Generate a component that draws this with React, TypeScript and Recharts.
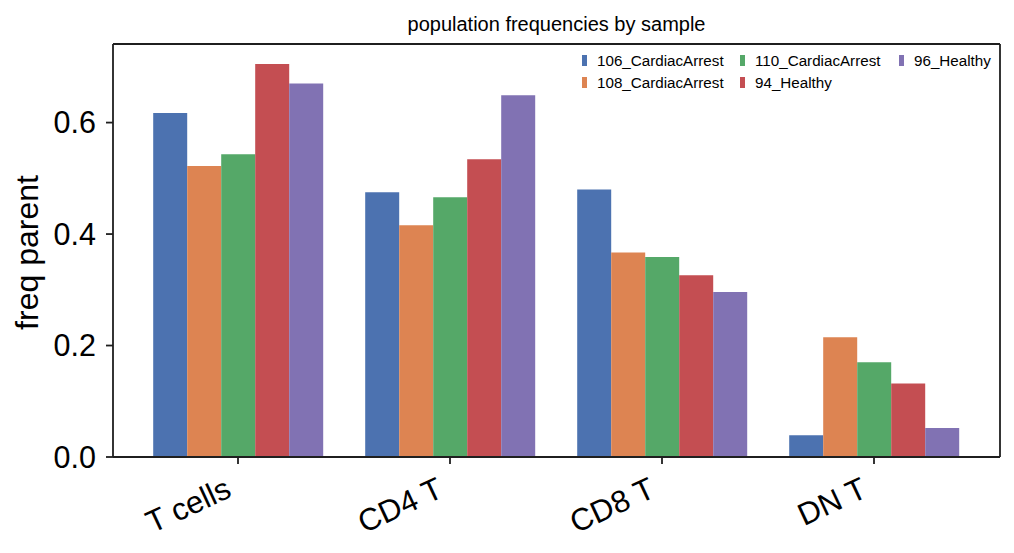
import React from 'react';
import { BarChart, Bar, XAxis, YAxis, Legend, Label } from 'recharts';

const categories = ['T cells', 'CD4 T', 'CD8 T', 'DN T'];
const seriesNames = ['106_CardiacArrest', '108_CardiacArrest', '110_CardiacArrest', '94_Healthy', '96_Healthy'];
const s106 = [0.617, 0.475, 0.48, 0.039];
const s108 = [0.522, 0.416, 0.367, 0.215];
const s110 = [0.543, 0.466, 0.359, 0.17];
const s94 = [0.705, 0.534, 0.326, 0.132];
const s96 = [0.67, 0.649, 0.296, 0.052];
const seriesValues = [s106, s108, s110, s94, s96];
const colors = ['#4C72B0', '#DD8452', '#55A868', '#C44E52', '#8172B3'];
const yTicks = [0, 0.2, 0.4, 0.6];
const yTickLabels = ['0.0', '0.2', '0.4', '0.6'];
const yMax = 0.741;

const data = categories.map((c, i) => {
  const row: Record<string, string | number> = { category: c };
  seriesNames.forEach((s, j) => {
    row[s] = seriesValues[j][i];
  });
  return row;
});

const FONT = '"Liberation Sans", Arial, Helvetica, sans-serif';
const AXIS = '#1f1f1f';

const XTick = (props: any) => {
  const { x, y, payload } = props;
  const px = x - 5;
  const py = y + 32;
  return (
    <text
      x={px}
      y={py}
      textAnchor="end"
      transform={`rotate(-25, ${px}, ${py})`}
      fontSize={31}
      fontFamily={FONT}
      fill="#000"
    >
      {payload.value}
    </text>
  );
};

const YLabel = (props: any) => {
  const vb = props.viewBox || { x: 0, y: 44, width: 113, height: 413 };
  const cx = vb.x + 38;
  const cy = vb.y + vb.height / 2 + 2;
  return (
    <text
      x={cx}
      y={cy}
      textAnchor="middle"
      transform={`rotate(-90, ${cx}, ${cy})`}
      fontSize={32}
      fontFamily={FONT}
      fill="#000"
    >
      freq parent
    </text>
  );
};

const colX = [4, 162, 321];

const LegendContent = (props: any) => {
  const payload = props.payload || [];
  return (
    <div style={{ position: 'relative', width: 430, height: 46, fontFamily: FONT }}>
      {payload.map((p: any, i: number) => {
        const col = Math.floor(i / 2);
        const row = i % 2;
        return (
          <div
            key={p.value}
            style={{
              position: 'absolute',
              left: colX[col],
              top: row * 22.5,
              height: 22.5,
              display: 'flex',
              alignItems: 'center',
              whiteSpace: 'nowrap',
            }}
          >
            <span style={{ display: 'inline-block', width: 5, height: 11, background: p.color, marginRight: 10 }} />
            <span style={{ fontSize: 15.2, color: '#000', lineHeight: '15px' }}>{p.value}</span>
          </div>
        );
      })}
    </div>
  );
};

export default function App() {
  return (
    <div style={{ position: 'absolute', left: 0, top: 0, width: 1014, height: 553, background: '#fff' }}>
      <div
        style={{
          position: 'absolute',
          left: 113,
          width: 887,
          top: 14,
          textAlign: 'center',
          fontFamily: FONT,
          fontSize: 20,
          lineHeight: '20px',
          color: '#000',
        }}
      >
        population frequencies by sample
      </div>
      <BarChart
        width={1014}
        height={553}
        data={data}
        margin={{ top: 43, right: 13, left: 0, bottom: 0 }}
        barCategoryGap="10%"
        barGap={0}
      >
        <XAxis
          dataKey="category"
          height={96}
          padding={{ left: 19, right: 20 }}
          tickSize={7}
          tickMargin={0}
          tick={<XTick />}
          axisLine={{ stroke: AXIS, strokeWidth: 1.8 }}
          tickLine={{ stroke: AXIS, strokeWidth: 1.8 }}
          interval={0}
        />
        <XAxis
          xAxisId="top"
          dataKey="category"
          orientation="top"
          height={1}
          padding={{ left: 19, right: 20 }}
          tick={false}
          tickLine={false}
          axisLine={{ stroke: AXIS, strokeWidth: 1.8 }}
        />
        <YAxis
          width={113}
          domain={[0, yMax]}
          ticks={yTicks}
          tickFormatter={(v: number) => yTickLabels[yTicks.indexOf(v)] ?? String(v)}
          tickSize={7}
          tickMargin={10}
          tick={{ fontSize: 30.5, fontFamily: FONT, fill: '#000' }}
          axisLine={{ stroke: AXIS, strokeWidth: 1.8 }}
          tickLine={{ stroke: AXIS, strokeWidth: 1.8 }}
          allowDataOverflow
        >
          <Label content={<YLabel />} />
        </YAxis>
        <YAxis
          yAxisId="right"
          orientation="right"
          width={1}
          domain={[0, yMax]}
          ticks={yTicks}
          tick={false}
          tickLine={false}
          axisLine={{ stroke: AXIS, strokeWidth: 1.8 }}
        />
        <Legend
          layout="horizontal"
          verticalAlign="middle"
          align="center"
          wrapperStyle={{ position: 'absolute', top: 49, left: 578, width: 430, height: 46 }}
          content={<LegendContent />}
        />
        {seriesNames.map((s, j) => (
          <Bar key={s} dataKey={s} fill={colors[j]} isAnimationActive={false} />
        ))}
      </BarChart>
    </div>
  );
}
